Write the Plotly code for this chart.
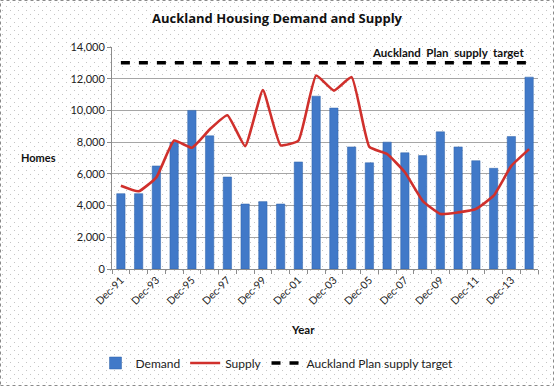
import base64
import plotly.graph_objects as go

years = ["Dec-91", "Dec-92", "Dec-93", "Dec-94", "Dec-95", "Dec-96", "Dec-97", "Dec-98",
         "Dec-99", "Dec-00", "Dec-01", "Dec-02", "Dec-03", "Dec-04", "Dec-05", "Dec-06",
         "Dec-07", "Dec-08", "Dec-09", "Dec-10", "Dec-11", "Dec-12", "Dec-13", "Dec-14"]
demand = [4750, 4750, 6500, 8000, 10000, 8400, 5800, 4100, 4250, 4100, 6750, 10900,
          10150, 7700, 6700, 8000, 7330, 7150, 8650, 7700, 6830, 6350, 8350, 12100]
supply = [5250, 4900, 5780, 8100, 7650, 8800, 9700, 7750, 11280, 7800, 8100, 12200,
          11250, 12100, 7700, 7250, 6100, 4300, 3470, 3570, 3780, 4620, 6500, 7560]
target_value = 13000
target = [target_value] * len(years)

W, H = 554, 386
L, R, T, B = 112, 16, 47, 117
pw, ph = W - L - R, H - T - B

xs = list(range(len(years)))
FONT = "Lato, Open Sans, sans-serif"

# dotted background pattern (Excel-style chart area fill)
svg = (f'<svg xmlns="http://www.w3.org/2000/svg" width="{W}" height="{H}">'
       '<defs><pattern id="p" width="8" height="8" patternUnits="userSpaceOnUse">'
       '<rect x="2" y="2" width="1" height="1" fill="#c4c4c4"/>'
       '<rect x="6" y="6" width="1" height="1" fill="#c4c4c4"/></pattern></defs>'
       f'<rect width="{W}" height="{H}" fill="url(#p)"/></svg>')
bg_src = "data:image/svg+xml;base64," + base64.b64encode(svg.encode()).decode()

fig = go.Figure()
fig.add_trace(go.Bar(x=xs, y=demand, name="Demand", width=0.47,
                     marker=dict(color="#4179c8", line=dict(color="#2f62a8", width=0.5))))
fig.add_trace(go.Scatter(x=xs, y=supply, name="Supply", mode="lines",
                         line=dict(color="#d0302c", width=2.6, shape="spline", smoothing=0.4)))
fig.add_trace(go.Scatter(x=xs, y=target, name="Auckland Plan supply target", mode="lines",
                         line=dict(color="#000000", width=3.5, dash="9px,9px")))

fig.update_layout(
    width=W, height=H,
    margin=dict(l=L, r=R, t=T, b=B),
    paper_bgcolor="white", plot_bgcolor="rgba(0,0,0,0)",
    font=dict(family=FONT, size=10, color="#222"),
    title=dict(text="<b>Auckland Housing Demand and Supply</b>", x=0.5, xref="container",
               y=1 - 18 / H, yref="container", yanchor="middle", xanchor="center",
               font=dict(size=13, color="#111", family="Open Sans, sans-serif")),
    showlegend=True,
    legend=dict(orientation="h", xref="container", yref="container", x=0.5, xanchor="center",
                y=1 - 363 / H, yanchor="middle", font=dict(size=12, color="#222"),
                itemwidth=30, bgcolor="rgba(0,0,0,0)", tracegroupgap=0),
    bargap=0.5,
    images=[dict(source=bg_src, xref="paper", yref="paper",
                 x=(0 - L) / pw, y=(269 - 0) / ph, sizex=W / pw, sizey=H / ph,
                 xanchor="left", yanchor="top", sizing="stretch", layer="below")],
)
fig.update_xaxes(range=[-0.5, len(years) - 0.5], tickmode="array",
                 tickvals=xs[::2], ticktext=years[::2], tickangle=-45,
                 showgrid=False, showline=True, linecolor="#8c8c8c", linewidth=1,
                 ticks="", tickfont=dict(size=10.5, color="#222"),
                 minor=dict(ticks="outside", ticklen=4, tickcolor="#8c8c8c",
                            tickmode="linear", tick0=-0.5, dtick=1))
fig.update_yaxes(range=[0, 14000], dtick=2000, tickformat=",", showgrid=True,
                 gridcolor="#a6a6a6", gridwidth=1, showline=True, linecolor="#8c8c8c",
                 ticks="outside", ticklen=4, tickcolor="#8c8c8c", zeroline=False,
                 tickfont=dict(size=11, color="#222"))

fig.add_annotation(text="<b>Homes</b>", xref="paper", yref="paper",
                   x=(38 - L) / pw, y=(269 - 157) / ph, showarrow=False,
                   xanchor="center", yanchor="middle", font=dict(size=11, color="#111"))
fig.add_annotation(text="<b>Year</b>", xref="paper", yref="paper",
                   x=(303 - L) / pw, y=(269 - 329) / ph, showarrow=False,
                   xanchor="center", yanchor="middle", font=dict(size=11.5, color="#111"))
fig.add_annotation(text="<b>Auckland  Plan  supply  target</b>", xref="paper", yref="paper",
                   x=(526 - L) / pw, y=(269 - 53) / ph, showarrow=False,
                   xanchor="right", yanchor="middle", font=dict(size=11.5, color="#111"))
fig.add_shape(type="rect", xref="paper", yref="paper",
              x0=(0.5 - L) / pw, x1=(W - 0.5 - L) / pw,
              y0=(269 - (H - 0.5)) / ph, y1=(269 - 0.5) / ph,
              line=dict(color="#8a8a8a", width=1, dash="dot"), layer="above")

fig.write_html("out.html", config={"displayModeBar": False},
               post_script="document.body.style.margin='0px';")
